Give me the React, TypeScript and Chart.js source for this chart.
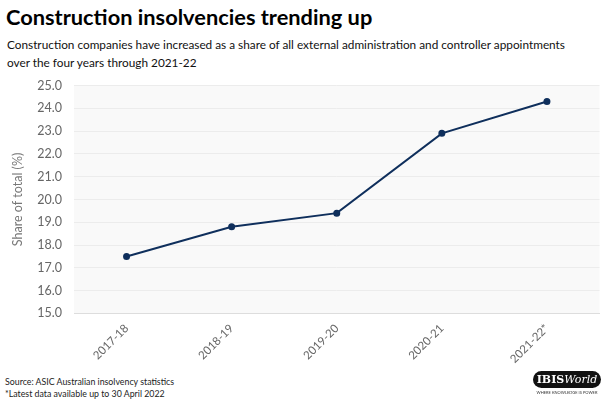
import React, { useEffect, useRef } from "react";
import { Chart, registerables } from "chart.js";

Chart.register(...registerables);

const categories = ["2017-18", "2018-19", "2019-20", "2020-21", "2021-22*"];
const shareValues = [17.5, 18.8, 19.4, 22.9, 24.3];
const yMin = 15;
const yMax = 25;

const bgPlugin = {
  id: "plotBg",
  beforeDraw(chart: any) {
    const { ctx, chartArea } = chart;
    if (!chartArea) return;
    ctx.save();
    ctx.fillStyle = "#f9f9f9";
    ctx.fillRect(chartArea.left, chartArea.top, chartArea.right - chartArea.left, chartArea.bottom - chartArea.top);
    ctx.restore();
  },
};

const FONT = "Lato";

export default function App() {
  const ref = useRef<HTMLCanvasElement | null>(null);
  useEffect(() => {
    if (!ref.current) return;
    const chart = new Chart(ref.current, {
      type: "line",
      data: {
        labels: categories,
        datasets: [
          {
            data: shareValues,
            borderColor: "#0f2f5c",
            backgroundColor: "#0f2f5c",
            borderWidth: 2,
            pointRadius: 2.5,
            pointHoverRadius: 2.5,
            tension: 0,
          },
        ],
      },
      options: {
        animation: false,
        responsive: false,
        maintainAspectRatio: false,
        layout: { padding: { top: 3, right: 4, left: 0, bottom: 0 } },
        plugins: { legend: { display: false }, tooltip: { enabled: false } },
        scales: {
          x: {
            offset: true,
            grid: { display: false, drawTicks: false },
            border: { display: true, color: "#dddddd" },
            ticks: {
              minRotation: 45,
              maxRotation: 45,
              color: "#666",
              font: { family: FONT, size: 11.5 },
              padding: 8,
            },
          },
          y: {
            min: yMin,
            max: yMax,
            grid: { color: "#ececec", drawTicks: false },
            border: { display: false },
            ticks: {
              stepSize: 1,
              color: "#666",
              padding: 12,
              font: { family: FONT, size: 12.5 },
              callback: (v: any) => Number(v).toFixed(1),
            },
            title: {
              display: true,
              text: "Share of total (%)",
              color: "#777",
              font: { family: FONT, size: 12.5 },
              padding: { top: 10, bottom: 0 },
            },
            afterFit: (s: any) => {
              s.width = 74;
            },
          },
        },
      },
      plugins: [bgPlugin],
    });
    return () => chart.destroy();
  }, []);

  return (
    <div
      style={{
        position: "fixed",
        left: 0,
        top: 0,
        width: 604,
        height: 399,
        background: "#fff",
        fontFamily: `${FONT}, sans-serif`,
        overflow: "hidden",
      }}
    >
      <div style={{ position: "absolute", left: 6, top: 3, fontSize: 21.8, fontWeight: 700, color: "#000", whiteSpace: "nowrap" }}>
        Construction insolvencies trending up
      </div>
      <div style={{ position: "absolute", left: 7, top: 36, fontSize: 11.8, lineHeight: "18px", color: "#111", whiteSpace: "nowrap" }}>
        Construction companies have increased as a share of all external administration and controller appointments
        <br />
        over the four years through 2021-22
      </div>
      <canvas ref={ref} width={604} height={308} style={{ position: "absolute", left: 0, top: 66 }} />
      <div style={{ position: "absolute", left: 5, top: 376, fontSize: 8.8, lineHeight: "12px", color: "#222", whiteSpace: "nowrap" }}>
        Source: ASIC Australian insolvency statistics
        <br />
        *Latest data available up to 30 April 2022
      </div>
      <div style={{ position: "absolute", left: 533, top: 371, width: 68, textAlign: "center" }}>
        <div
          style={{
            background: "#111",
            color: "#fff",
            borderRadius: 9,
            fontFamily: "'DejaVu Serif', serif",
            fontSize: 11,
            lineHeight: "17px",
            fontWeight: 700,
          }}
        >
          IBIS<span style={{ fontStyle: "italic", fontWeight: 400 }}>World</span>
        </div>
        <div style={{ fontSize: 4, color: "#333", lineHeight: "6px", marginTop: 2 }}>WHERE KNOWLEDGE IS POWER</div>
      </div>
    </div>
  );
}
